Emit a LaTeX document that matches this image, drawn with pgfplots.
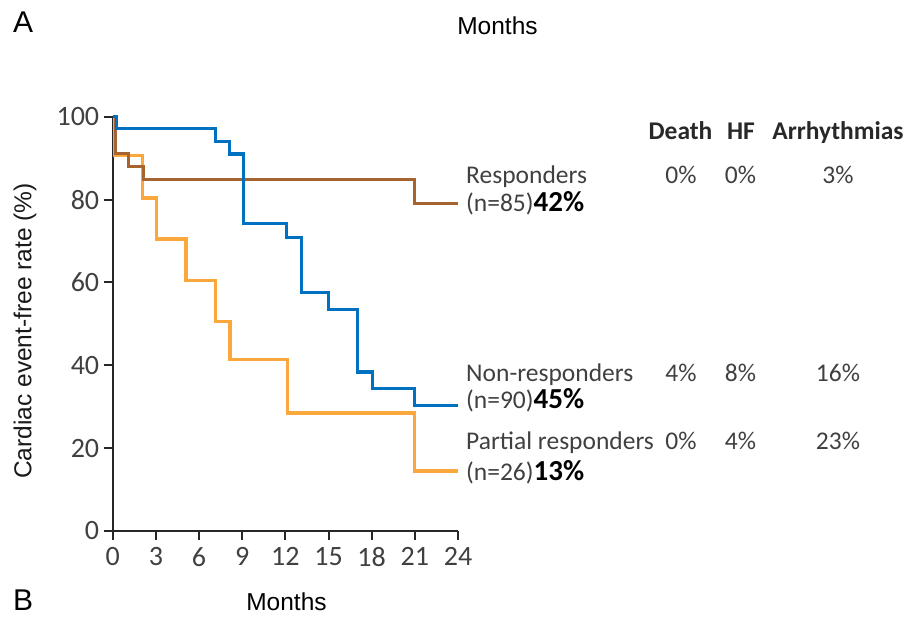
\documentclass[border=0pt]{standalone}
\usepackage{pgfplots}
\pgfplotsset{compat=1.18}
\usepackage{fontspec}
\setmainfont{Carlito}
\newfontfamily\lib{Liberation Sans}
\definecolor{blueC}{RGB}{0,112,192}
\definecolor{brownC}{RGB}{166,100,48}
\definecolor{orangeC}{RGB}{250,168,60}
\definecolor{txt}{RGB}{64,64,64}
\definecolor{hdr}{RGB}{40,40,40}
\begin{document}
\begin{tikzpicture}[x=1pt,y=1pt]
\useasboundingbox (0,0) rectangle (907,616);
\begin{axis}[
  at={(112.7pt,85pt)}, anchor=south west,
  scale only axis, width=345.3pt, height=414.3pt,
  xmin=0, xmax=24, ymin=0, ymax=100,
  axis lines*=left,
  axis line style={line width=2pt, black!85},
  xtick={0,3,...,24}, ytick={0,20,...,100},
  tick align=outside, major tick length=9pt,
  tick style={line width=2pt, black!85},
  /pgf/number format/assume math mode=true,
  ticklabel style={font=\fontsize{28}{28}\selectfont, text=txt},
  xticklabel style={yshift=-4pt},
  yticklabel style={xshift=-1pt},
  clip=false,
]
\addplot[const plot, orangeC, line width=3.2pt] coordinates {
 (0,100) (0.1,90.6) (2.05,80.4) (3.05,70.5) (5.1,60.5) (7.15,50.6)
 (8.15,41.4) (12.15,28.5) (21,14.5) (24,14.5)};
\addplot[const plot, brownC, line width=3.2pt] coordinates {
 (0,100) (0.2,91.2) (1.1,88.0) (2.15,84.8) (21,79.1) (24,79.1)};
\addplot[const plot, blueC, line width=3.2pt] coordinates {
 (0,100) (0.25,97.2) (7.15,94.0) (8.1,91.0) (9.1,74.3) (12.1,70.9)
 (13.1,57.5) (15.0,53.4) (17.0,38.4) (18.05,34.4) (21.0,30.3) (24,30.3)};
\end{axis}
% panel letters and titles
\node[anchor=base west, inner sep=0, font=\lib\fontsize{30}{30}\selectfont] at (13,583) {A};
\node[anchor=base, inner sep=0, font=\lib\fontsize{24.5}{24.5}\selectfont] at (497.5,581) {Months};
\node[anchor=base west, inner sep=0, font=\lib\fontsize{30}{30}\selectfont] at (13,6) {B};
\node[anchor=base, inner sep=0, font=\lib\fontsize{24.5}{24.5}\selectfont] at (286.5,6) {Months};
% y label
\node[rotate=90, inner sep=0, font=\lib\fontsize{24.5}{24.5}\selectfont, text=black!90] at (25,285) {Cardiac event-free rate (\%)};
% header
\begin{scope}[every node/.style={anchor=base, inner sep=0, font=\bfseries\fontsize{25.5}{25.5}\selectfont, text=hdr}]
\node at (680.5,476.7) {Death};
\node at (741,476.7) {HF};
\node at (838,476.7) {Arrhythmias};
\end{scope}
% group labels
\begin{scope}[every node/.style={anchor=base west, inner sep=0, font=\fontsize{25.5}{25.5}\selectfont, text=txt}]
\node at (466,432.7) {Responders};
\node at (466,404.3) {(n=85)\textcolor{black}{\bfseries\fontsize{29}{29}\selectfont 42\%}};
\node at (466,234.3) {Non-responders};
\node at (466,207.7) {(n=90)\textcolor{black}{\bfseries\fontsize{29}{29}\selectfont 45\%}};
\node at (466,166) {Partial responders};
\node at (466,136) {(n=26)\textcolor{black}{\bfseries\fontsize{29}{29}\selectfont 13\%}};
\end{scope}
\begin{scope}[every node/.style={anchor=base, inner sep=0, font=\fontsize{25.5}{25.5}\selectfont, text=txt}]
\node at (681,432.7) {0\%}; \node at (740.5,432.7) {0\%}; \node at (838,432.7) {3\%};
\node at (681,234.3) {4\%}; \node at (740.5,234.3) {8\%}; \node at (838,234.3) {16\%};
\node at (681,166) {0\%}; \node at (740.5,166) {4\%}; \node at (838,166) {23\%};
\end{scope}
\end{tikzpicture}
\end{document}
